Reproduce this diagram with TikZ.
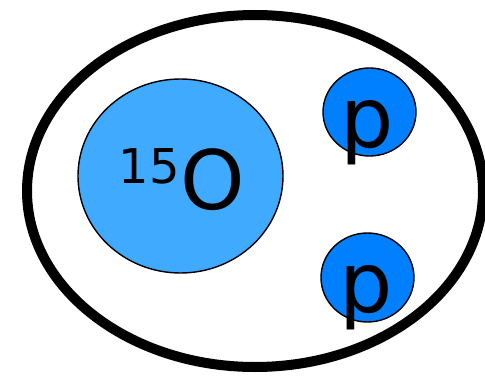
\documentclass[tikz,border=0pt]{standalone}
\usepackage{fontspec}
\setmainfont{DejaVu Sans}
\usetikzlibrary{shapes.geometric}
\definecolor{nucleus}{RGB}{64,170,255}
\definecolor{proton}{RGB}{0,128,255}
\tikzset{
  blob/.style={ellipse,draw=black,line width=1.4pt,inner sep=0pt},
  lbl/.style={anchor=base,inner sep=0pt,text=black}
}
\begin{document}
\begin{tikzpicture}[x=1pt,y=1pt]
\useasboundingbox (0,0) rectangle (485,376);
\begin{scope}
\clip (0,0) rectangle (485,376);
\node[ellipse,draw=black,line width=10pt,minimum width=456pt,minimum height=352pt,inner sep=0pt] (outer) at (255,185) {};
\end{scope}
\node[blob,fill=nucleus,minimum width=205pt,minimum height=194pt] (O) at (180.5,200) {};
\node[blob,fill=proton,minimum width=93pt,minimum height=88pt] (p1) at (369.5,264) {};
\node[blob,fill=proton,minimum width=93pt,minimum height=89pt] (p2) at (367.5,98.5) {};
\node[lbl] (Otext) at (182,167) {\fontsize{48}{48}\selectfont\raisebox{26pt}{15}\hspace{1pt}\fontsize{82}{82}\selectfont O};
\node[lbl] (p1text) at (367,229) {\fontsize{84}{84}\selectfont p};
\node[lbl] (p2text) at (366,64) {\fontsize{84}{84}\selectfont p};
\end{tikzpicture}
\end{document}
